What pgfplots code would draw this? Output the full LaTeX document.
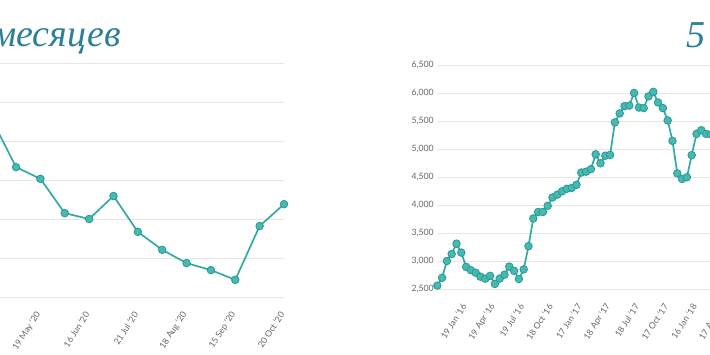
\documentclass[border=0pt]{standalone}
\usepackage{pgfplots}
\pgfplotsset{compat=1.18}
\usepackage{fontspec}
\setmainfont{Lato}
\newfontfamily\titlefont{Liberation Serif}
\definecolor{lineteal}{RGB}{52,170,165}
\definecolor{markfill}{RGB}{70,185,179}
\definecolor{markdraw}{RGB}{42,152,147}
\definecolor{gridgray}{RGB}{230,230,230}
\definecolor{ticktext}{RGB}{102,102,102}
\definecolor{titleblue}{RGB}{46,128,152}
\pgfplotsset{
  chartstyle/.style={
    scale only axis,
    axis line style={draw=none},
    tick style={draw=none},
    ymajorgrids,
    grid style={gridgray, line width=0.9pt},
    clip=false,
    ticklabel style={font=\fontsize{8.7}{10}\selectfont, text=ticktext},
    xticklabel style={rotate=57, anchor=east},
    xticklabel shift=13pt,
  },
  serie/.style={
    color=lineteal, line width=1.7pt,
    mark=*, mark size=3.8pt,
    mark options={fill=markfill, draw=markdraw, line width=0.8pt},
  },
}
\begin{document}
\begin{tikzpicture}
\path[use as bounding box] (0pt,0pt) rectangle (710pt,355pt);
\fill[white] (0pt,0pt) rectangle (710pt,355pt);
\clip (0pt,0pt) rectangle (710pt,355pt);
% left chart (cropped)
\node[anchor=base east, inner sep=0pt, text=titleblue, font=\titlefont\itshape\fontsize{38}{44}\selectfont] at (121pt,308pt) {месяцев};
\begin{axis}[chartstyle,
  at={(-69.2pt,58pt)}, anchor=south west,
  width=353.2pt, height=234pt,
  xmin=-2.5, xmax=12, ymin=0, ymax=6,
  ytick={0,1,2,3,4,5,6}, yticklabels={},
  xtick={2,4,6,8,10,12},
  xticklabels={{19 May '20},{16 Jun '20},{21 Jul '20},{18 Aug '20},{15 Sep '20},{20 Oct '20}},
]
\addplot[serie] coordinates {
(0,4.56) (1,3.33) (2,3.03) (3,2.15) (4,2.00) (5,2.59) (6,1.67)
(7,1.21) (8,0.87) (9,0.69) (10,0.44) (11,1.82) (12,2.38)
};
\end{axis}
% right chart (cropped)
\node[anchor=base east, inner sep=0pt, text=titleblue, font=\titlefont\itshape\fontsize{38}{44}\selectfont] at (706pt,307pt) {5};
\begin{axis}[chartstyle,
  at={(437.3pt,66pt)}, anchor=south west,
  width=297.6pt, height=224pt,
  xmin=0, xmax=62, ymin=2500, ymax=6500,
  ytick={2500,3000,3500,4000,4500,5000,5500,6000,6500},
  yticklabels={{2,500},{3,000},{3,500},{4,000},{4,500},{5,000},{5,500},{6,000},{6,500}},
  xtick={6,12,18,24,30,36,42,48,54,60},
  xticklabels={{19 Jan '16},{19 Apr '16},{19 Jul '16},{18 Oct '16},{17 Jan '17},{18 Apr '17},{18 Jul '17},{17 Oct '17},{16 Jan '18},{17 Apr '18}},
]
\addplot[serie] coordinates {
(0,2560) (1,2700) (2,3000) (3,3125) (4,3310) (5,3150) (6,2895) (7,2835)
(8,2790) (9,2720) (10,2685) (11,2735) (12,2590) (13,2685) (14,2755) (15,2900)
(16,2825) (17,2680) (18,2850) (19,3265) (20,3760) (21,3875) (22,3875) (23,3985)
(24,4135) (25,4185) (26,4245) (27,4290) (28,4305) (29,4360) (30,4580) (31,4595)
(32,4640) (33,4905) (34,4745) (35,4880) (36,4895) (37,5475) (38,5635) (39,5765)
(40,5775) (41,6000) (42,5740) (43,5730) (44,5940) (45,6020) (46,5830) (47,5730)
(48,5510) (49,5145) (50,4565) (51,4465) (52,4495) (53,4890) (54,5270) (55,5335)
(56,5270) (57,5260)
};
\end{axis}
\end{tikzpicture}
\end{document}
